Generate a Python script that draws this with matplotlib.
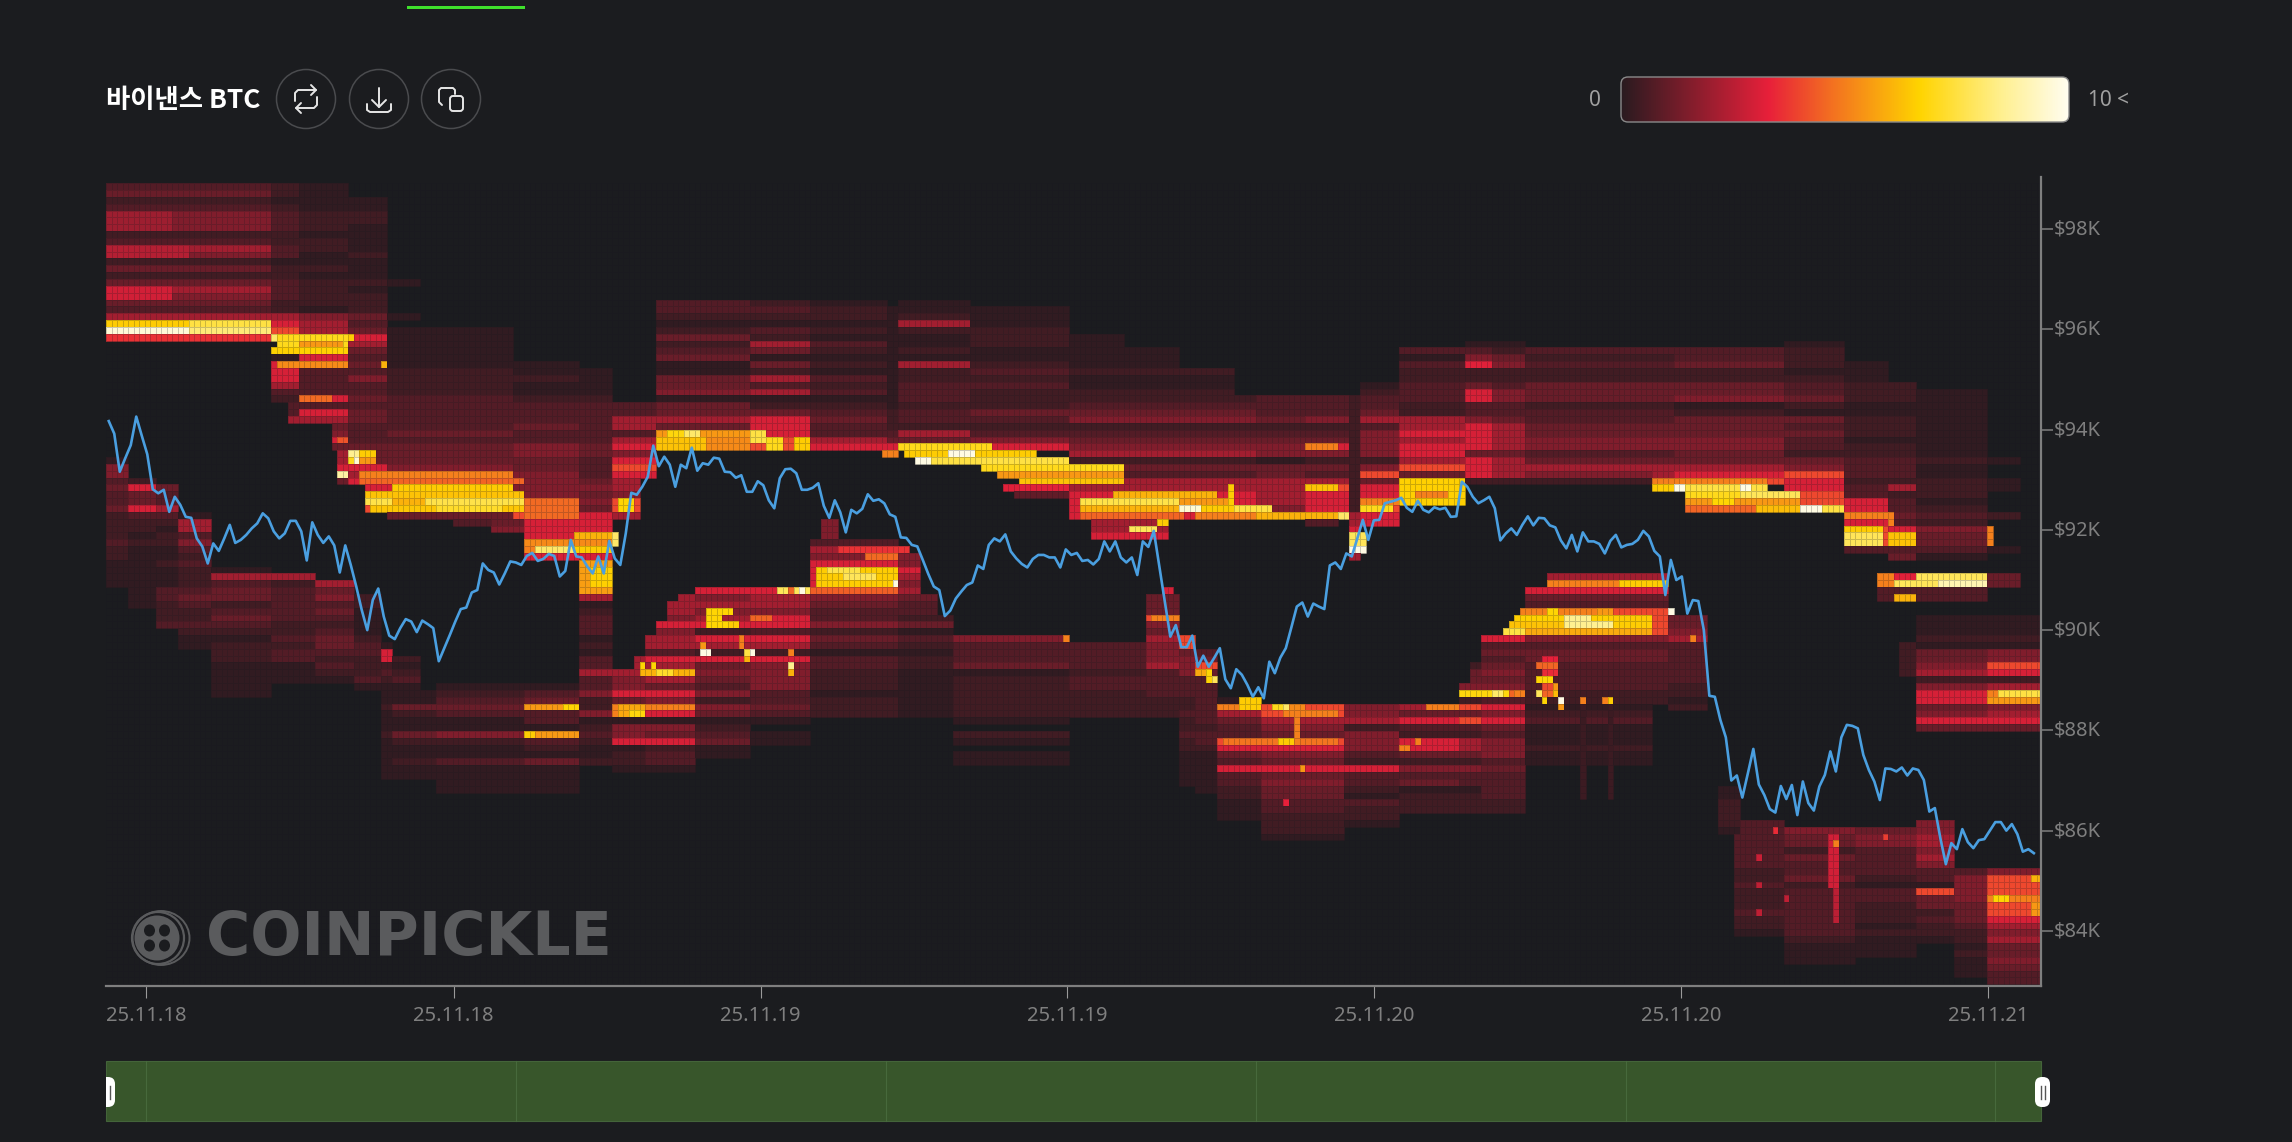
import numpy as np
import matplotlib
matplotlib.use('Agg')
from matplotlib import pyplot as plt
from matplotlib.colors import LinearSegmentedColormap
from matplotlib.patches import Circle, Ellipse, FancyBboxPatch, Rectangle
from matplotlib.transforms import ScaledTranslation

# heatmap grid: one column per time bucket, one row per price bucket (row 0 = top)
n_cols = 352
n_rows = 118
top_price = 98.917
price_step = 0.1366

# strength of a digit in the zone strings below
level_values = [0, 0.12, 0.4, 0.72, 1.1, 1.5, 2.1, 3.0, 4.0, 5.0]

# (first col, end col, first row, one digit per row)
zones = [
    (0, 30, 0, "34235552365242465436"),
    (30, 35, 0, "2212333223312233322678"),
    (35, 44, 0, "11112221221121222215664447533337376"),
    (30, 35, 25, "1777632"),
    (33, 35, 32, "336"),
    (41, 44, 35, "457466784"),
    (44, 51, 2, "11221111211121222434" "76434353" "34344333444767"),
    (51, 57, 14, "100001"),
    (51, 74, 21, "1111112222333334344457878884"),
    (47, 51, 44, "7888"),
    (63, 70, 49, "3"),
    (74, 86, 26, "112112" "33343355445555" "988777" "997"),
    (70, 76, 49, "45"),
    (86, 92, 27, "1111" "2" "333333" "44" "333" "45454" "777" "8887" "88888" "6" "1233312133" "6335225" "1232112"),
    (92, 100, 32, "33663675787"),
    (92, 97, 43, "665886"),
    (100, 117, 17, "3321242341144514464998"),
    (117, 128, 17, "2321326414263612477788"),
    (128, 142, 17, "1221213212132312343367"),
    (142, 144, 18, "111111111111111222347"),
    (144, 157, 17, "1126211216223332332647"),
    (157, 175, 18, "111222112323222432357"),
    (175, 209, 22, "111112112234523456243667777"),
    (179, 193, 49, "667"),
    (218, 224, 49, "3"),
    (209, 218, 31, "33342345514466665"),
    (218, 226, 31, "33352347524368777"),
    (226, 228, 31, "22222222222222222" "6678886"),
    (228, 235, 29, "123346355552584778877"),
    (235, 247, 24, "31322333226676776848888"),
    (247, 252, 23, "135622477335777747772"),
    (252, 258, 23, "124522355334666646662"),
    (258, 281, 24, "32322444233445534652"),
    (281, 285, 24, "323224442334455346688"),
    (285, 305, 24, "33422445124445544678"),
    (305, 316, 23, "122212334214343324587788"),
    (316, 324, 26, "1112221122212233323377878883"),
    (324, 329, 29, "22211222122333262334379934"),
    (329, 342, 30, "1111111111211222123254431"),
    (342, 348, 40, "10011000200001"),
    (0, 4, 40, "1553433422223221111"),
    (4, 9, 43, "2744732212111111111"),
    (9, 13, 44, "433632122112111332223"),
    (13, 19, 48, "16635323222343223211"),
    (19, 30, 56, "1634423432122211111"),
    (30, 38, 57, "6233333223233111"),
    (38, 45, 58, "645343234432321"),
    (45, 50, 60, "22111123322231"),
    (50, 52, 67, "17723211121112111111"),
    (52, 57, 69, "21231"),
    (52, 60, 74, "1142114211211"),
    (60, 76, 73, "1234311521131111"),
    (76, 86, 73, "1349331932141111"),
    (92, 98, 71, "655749915571221"),
    (96, 98, 69, "66"),
    (98, 107, 60, "66657566376964759715472331"),
    (107, 117, 59, "7565672762745435254123411"),
    (117, 128, 59, "76657737627555533431011"),
    (128, 144, 59, "8543352431332221222"),
    (130, 133, 49, "5552"),
    (128, 144, 52, "3657777"),
    (144, 154, 54, "557656433241321221111111"),
    (154, 175, 66, "5333412222221021011"),
    (175, 189, 67, "33332332222"),
    (189, 195, 60, "444854655563333222"),
    (192, 194, 59, "7"),
    (195, 198, 66, "8845553332232232211111"),
    (198, 202, 68, "348433333332332111111"),
    (202, 210, 75, "196433874373322111"),
    (210, 225, 76, "88654875474544332221"),
    (225, 235, 76, "556255532733213221"),
    (235, 246, 76, "6473277425341222"),
    (246, 250, 70, "2445928483266425331222"),
    (250, 258, 66, "73434545937574355534333322"),
    (258, 284, 57, "6874388885344333322123111211"),
    (284, 291, 63, "44563333332212"),
    (296, 305, 93, "33333332232223221"),
    (293, 297, 88, "1122221"),
    (305, 318, 94, "54424334233333332111"),
    (318, 329, 94, "4553333213322212111"),
    (329, 336, 93, "556656533184423221"),
    (336, 342, 100, "3555544432212111"),
    (342, 352, 100, "58889887656445433"),
    (329, 342, 63, "11121445625774574"),
    (342, 352, 63, "11121558726995674"),
    (326, 329, 67, "22222"),
    (322, 342, 59, "33"),
    (342, 348, 57, "44"),
]

# empty blocks that give the walls their stair steps
empty_cells = [
    (41, 42, 39, 44), (44, 46, 44, 50), (74, 76, 51, 56),
    (185, 209, 22, 24), (195, 209, 22, 27), (205, 209, 22, 31),
    (98, 100, 60, 66), (100, 102, 60, 64), (102, 104, 60, 61),
    (148, 154, 54, 60), (151, 154, 60, 63), (246, 248, 70, 73),
    (258, 262, 57, 59), (281, 284, 76, 85),
]

# bright cells on top: (first col, end col, first row, end row, value)
hot_cells = [
    (0, 12, 15, 17, 2.9), (0, 15, 9, 11, 2.4), (0, 12, 4, 7, 2.0), (247, 252, 26, 27, 3.2),
    (0, 30, 20, 21, 6.5), (15, 30, 20, 21, 7.5), (0, 15, 21, 22, 9.6), (15, 30, 21, 22, 8.2), (0, 30, 22, 23, 3.6),
    (30, 31, 22, 23, 8), (31, 44, 22, 24, 7), (35, 43, 23, 24, 5.5), (30, 44, 24, 25, 6.6), (31, 44, 26, 27, 5.2),
    (44, 45, 22, 23, 6.5), (50, 51, 26, 27, 6), (35, 41, 31, 32, 4.6), (42, 44, 37, 38, 4.2),
    (44, 46, 39, 40, 8.5), (46, 49, 39, 40, 6.5), (44, 46, 40, 41, 7), (45, 46, 40, 41, 9.5), (46, 49, 40, 41, 5.5),
    (42, 44, 42, 43, 8.8), (46, 74, 42, 43, 5), (46, 76, 43, 44, 4.5), (52, 74, 44, 45, 6.5),
    (47, 76, 45, 46, 6.3), (47, 76, 46, 47, 7.6), (52, 58, 46, 47, 6), (48, 76, 47, 48, 6.4), (60, 72, 47, 48, 7.2),
    (76, 92, 52, 53, 5.2), (85, 92, 51, 52, 6), (78, 85, 53, 54, 8), (85, 92, 53, 54, 6.5),
    (76, 86, 46, 49, 4.6), (86, 92, 55, 60, 5.6), (88, 92, 56, 59, 6.6), (93, 96, 46, 48, 6.7), (92, 93, 51, 53, 8),
    (100, 117, 36, 37, 5.5), (102, 108, 36, 37, 6.8), (105, 108, 36, 37, 8), (100, 109, 37, 39, 6.3), (109, 117, 37, 39, 5.2),
    (117, 120, 36, 38, 7.5), (120, 123, 37, 39, 7), (125, 128, 37, 39, 6.5),
    (144, 161, 38, 39, 7), (145, 169, 39, 40, 6.5), (153, 158, 39, 40, 9.8), (141, 144, 39, 40, 5),
    (147, 175, 40, 41, 7.5), (147, 150, 40, 41, 9.8), (159, 185, 41, 42, 7), (162, 185, 42, 43, 5.5),
    (166, 185, 43, 44, 6.3), (163, 175, 44, 45, 3.2), (165, 175, 45, 46, 1),
    (183, 202, 45, 46, 6), (177, 195, 46, 47, 7.6), (195, 204, 46, 47, 5.5), (177, 195, 47, 48, 6),
    (195, 199, 47, 48, 9.5), (199, 204, 47, 48, 6.5), (204, 212, 47, 48, 7.5), (177, 196, 48, 49, 4.5),
    (198, 209, 48, 49, 5), (209, 224, 48, 49, 6), (224, 226, 48, 49, 8), (204, 205, 44, 48, 6.5),
    (186, 191, 50, 51, 7.8), (191, 193, 49, 50, 6.5), (218, 224, 38, 39, 5), (218, 224, 44, 45, 6.3),
    (226, 229, 51, 54, 7.8), (226, 229, 53, 54, 9.8), (228, 235, 46, 47, 5), (228, 234, 47, 48, 7),
    (235, 247, 43, 47, 6.6), (238, 244, 45, 46, 5), (281, 284, 43, 44, 5), (282, 302, 43, 44, 5),
    (281, 285, 44, 45, 6.5), (285, 302, 44, 45, 7.5), (285, 287, 44, 45, 9.8), (297, 299, 44, 45, 9.8),
    (287, 308, 45, 46, 7), (297, 308, 45, 46, 7.8), (287, 308, 46, 47, 5.5), (292, 296, 46, 47, 6.7),
    (287, 300, 47, 48, 4.5), (300, 308, 47, 48, 6.2), (308, 312, 47, 48, 9.8), (312, 316, 47, 48, 7.5),
    (316, 324, 48, 49, 5), (316, 323, 50, 51, 6.5), (316, 323, 51, 53, 7.8), (324, 329, 51, 53, 6.3), (324, 325, 48, 50, 5),
    (342, 343, 50, 53, 5), (322, 325, 57, 59, 5), (325, 329, 57, 58, 3.2), (325, 329, 58, 59, 7.8),
    (329, 342, 57, 59, 7.8), (333, 342, 58, 59, 9), (325, 329, 60, 61, 6),
    (109, 112, 62, 65, 6.7), (112, 114, 62, 63, 6.7), (110, 114, 64, 65, 6.7), (113, 115, 64, 65, 6.5),
    (108, 109, 67, 68, 5.5), (108, 110, 68, 69, 9.8), (115, 116, 66, 68, 5), (116, 117, 68, 69, 7.5),
    (117, 118, 68, 69, 9.8), (116, 117, 69, 70, 6), (124, 125, 68, 69, 5), (124, 125, 70, 71, 8.5), (124, 125, 71, 72, 6),
    (122, 124, 59, 60, 7.8), (124, 125, 59, 60, 4.5), (125, 128, 59, 60, 7.8), (126, 127, 59, 60, 9.8), (117, 121, 63, 64, 4.5),
    (133, 146, 53, 54, 3.6), (138, 144, 54, 55, 4.6), (129, 144, 56, 59, 6.5), (131, 137, 56, 57, 7.6), (134, 140, 57, 58, 7.8),
    (143, 144, 58, 59, 9.8), (143, 144, 59, 60, 6.5), (128, 144, 59, 60, 4.4),
    (97, 98, 70, 71, 6.7), (99, 100, 70, 71, 6.7), (97, 107, 71, 72, 6), (100, 103, 71, 72, 7.2),
    (93, 98, 76, 78, 5.8), (95, 98, 77, 78, 6.8), (76, 86, 76, 77, 5.5), (83, 86, 76, 77, 6.7), (76, 86, 80, 81, 5.5), (76, 78, 80, 81, 6.5),
    (190, 195, 63, 64, 5), (174, 175, 66, 67, 5), (198, 200, 71, 72, 5.8), (200, 201, 71, 73, 6.7), (201, 202, 72, 73, 7.8),
    (206, 210, 75, 77, 6.5), (204, 206, 76, 77, 5), (212, 218, 76, 77, 5.2), (212, 214, 76, 77, 7), (214, 215, 76, 78, 8),
    (218, 219, 77, 78, 6.7), (214, 224, 77, 78, 5), (203, 224, 81, 82, 4.8), (213, 217, 81, 82, 6.5),
    (216, 217, 78, 82, 5), (217, 218, 85, 86, 5.5), (214, 215, 90, 91, 3.3),
    (238, 239, 81, 82, 5), (235, 237, 82, 83, 5), (240, 246, 76, 77, 5), (246, 255, 74, 75, 6.8), (252, 254, 74, 75, 8), (255, 256, 74, 75, 4.5),
    (262, 284, 58, 59, 5), (275, 284, 58, 59, 6.5), (257, 274, 62, 63, 5), (262, 264, 62, 63, 6.7), (271, 274, 62, 63, 5.5),
    (256, 281, 63, 64, 6.6), (255, 281, 64, 65, 6.3), (254, 281, 65, 66, 5.8), (254, 258, 65, 66, 7.5),
    (265, 270, 63, 65, 8.5), (274, 281, 63, 65, 6.5), (270, 274, 64, 65, 8.5), (284, 285, 62, 63, 9.8), (288, 289, 66, 67, 5),
    (261, 264, 69, 70, 3.3), (260, 264, 70, 71, 4.5), (261, 264, 71, 72, 3.5), (260, 263, 72, 73, 6.7), (261, 264, 73, 74, 4),
    (263, 264, 73, 74, 5.5), (260, 261, 74, 75, 7.8), (261, 263, 74, 75, 4.5), (263, 264, 74, 75, 6.2), (261, 262, 75, 76, 6.7),
    (264, 265, 75, 76, 9.8), (264, 265, 76, 77, 5.5), (268, 269, 75, 76, 5), (272, 273, 75, 76, 5), (273, 274, 75, 76, 6.5),
    (268, 269, 76, 90, 0.35), (273, 274, 76, 90, 0.35),
    (313, 315, 95, 103, 2.9), (314, 315, 103, 108, 2.5), (314, 315, 96, 97, 5), (303, 304, 94, 95, 3.5), (300, 301, 98, 99, 2.8), (300, 301, 102, 103, 2.6),
    (300, 301, 106, 107, 2.6), (305, 306, 104, 105, 2.6), (323, 324, 95, 96, 3.8),
    (343, 346, 104, 105, 6.7), (350, 352, 101, 102, 6), (350, 352, 105, 107, 5.5), (344, 352, 74, 75, 7.5), (342, 352, 75, 76, 5.5),
]

# BTC price in $K, one reading per column
line_price = [
    94.17, 93.92, 93.16, 93.43, 93.69, 94.26, 93.88, 93.51, 92.81, 92.73, 92.80, 92.36, 92.66, 92.50, 92.26, 92.24,
    91.83, 91.67, 91.33, 91.73, 91.58, 91.83, 92.10, 91.74, 91.80, 91.90, 92.03, 92.13, 92.33, 92.23, 91.97, 91.83,
    91.93, 92.18, 92.18, 91.97, 91.39, 92.15, 91.90, 91.74, 91.87, 91.69, 91.15, 91.69, 91.30, 90.87, 90.40, 90.00,
    90.60, 90.83, 90.27, 89.89, 89.82, 90.04, 90.22, 90.17, 89.96, 90.19, 90.12, 90.04, 89.38, 89.64, 89.90, 90.17,
    90.42, 90.45, 90.75, 90.80, 91.33, 91.20, 91.15, 90.91, 91.13, 91.37, 91.35, 91.30, 91.48, 91.54, 91.38, 91.42,
    91.52, 91.48, 91.07, 91.18, 91.80, 91.47, 91.45, 91.27, 91.13, 91.47, 91.13, 91.78, 91.43, 91.30, 91.93, 92.74,
    92.70, 92.86, 93.06, 93.68, 93.27, 93.46, 93.30, 92.86, 93.30, 93.23, 93.64, 93.18, 93.33, 93.30, 93.44, 93.42,
    93.16, 93.15, 93.04, 93.09, 92.76, 92.76, 92.97, 92.89, 92.59, 92.43, 93.03, 93.21, 93.22, 93.13, 92.80, 92.80,
    92.84, 92.93, 92.48, 92.24, 92.59, 92.35, 91.95, 92.40, 92.33, 92.42, 92.71, 92.58, 92.61, 92.53, 92.31, 92.26,
    91.85, 91.84, 91.70, 91.67, 91.40, 91.12, 90.87, 90.80, 90.28, 90.39, 90.63, 90.77, 90.90, 90.95, 91.29, 91.22,
    91.70, 91.83, 91.77, 91.91, 91.57, 91.43, 91.32, 91.25, 91.42, 91.50, 91.50, 91.45, 91.45, 91.25, 91.61, 91.50,
    91.54, 91.38, 91.40, 91.31, 91.42, 91.77, 91.57, 91.77, 91.45, 91.35, 91.45, 91.10, 91.77, 91.66, 91.98, 91.27,
    90.57, 89.87, 90.10, 89.66, 89.66, 89.89, 89.27, 89.49, 89.27, 89.45, 89.64, 89.02, 88.84, 89.22, 89.11, 88.91,
    88.67, 88.86, 88.64, 89.37, 89.14, 89.45, 89.64, 90.05, 90.47, 90.55, 90.27, 90.53, 90.47, 90.42, 91.29, 91.35,
    91.22, 91.53, 91.47, 91.83, 92.20, 91.80, 92.19, 92.20, 92.53, 92.56, 92.59, 92.64, 92.44, 92.36, 92.58, 92.40,
    92.35, 92.45, 92.41, 92.44, 92.26, 92.27, 92.96, 92.86, 92.66, 92.53, 92.59, 92.66, 92.43, 91.79, 91.93, 92.03,
    91.90, 92.10, 92.27, 92.09, 92.24, 92.23, 92.09, 92.05, 91.79, 91.63, 91.90, 91.57, 91.95, 91.77, 91.77, 91.72,
    91.53, 91.78, 91.90, 91.65, 91.70, 91.72, 91.80, 91.98, 91.87, 91.58, 91.47, 90.70, 91.40, 91.00, 91.07, 90.33,
    90.60, 90.58, 90.00, 88.69, 88.67, 88.21, 87.86, 87.00, 87.10, 86.66, 87.14, 87.63, 86.92, 86.71, 86.43, 86.36,
    86.89, 86.63, 86.91, 86.31, 86.98, 86.55, 86.40, 86.88, 87.11, 87.58, 87.18, 87.86, 88.11, 88.09, 88.04, 87.51,
    87.21, 86.98, 86.61, 87.24, 87.23, 87.18, 87.26, 87.10, 87.24, 87.21, 87.01, 86.38, 86.45, 85.85, 85.33, 85.75,
    85.63, 86.03, 85.77, 85.65, 85.81, 85.83, 86.00, 86.17, 86.17, 86.00, 86.13, 85.93, 85.58, 85.63, 85.55,
]

price_ticks = [84, 86, 88, 90, 92, 94, 96, 98]
price_labels = ['$84K', '$86K', '$88K', '$90K', '$92K', '$94K', '$96K', '$98K']
date_ticks = [7.35, 63.2, 119.0, 174.8, 230.6, 286.4, 342.2]
date_labels = ['25.11.18', '25.11.18', '25.11.19', '25.11.19', '25.11.20', '25.11.20', '25.11.21']

bg = '#1b1c1f'
grey = '#7f7f7f'
kr_font = ['Noto Sans CJK KR', 'DejaVu Sans']

heat_cmap = LinearSegmentedColormap.from_list('heat', [
    (0.0, '#2a1b20'), (0.33, '#e8203a'), (0.47, '#f37021'), (0.667, '#ffd400'), (0.85, '#fff08f'), (1.0, '#fffdf0')])

# paint the grid
heat = np.zeros((n_rows, n_cols))
for c0, c1, r0, digits in zones:
    for i, ch in enumerate(digits):
        if ch != '0':
            heat[r0 + i, c0:c1] = level_values[int(ch)]
for c0, c1, r0, r1 in empty_cells:
    heat[r0:r1, c0:c1] = 0
for c0, c1, r0, r1, v in hot_cells:
    heat[r0:r1, c0:c1] = v

fig = plt.figure(figsize=(22.92, 11.42), dpi=100, facecolor=bg)

# main chart, placed on the pixel box of the reference
ax = fig.add_axes([106 / 2292, 1 - 986 / 1142, 1935 / 2292, 809 / 1142], facecolor=bg)
col_edges = np.arange(n_cols + 1)
price_edges = top_price - price_step * np.arange(n_rows + 1)
ax.pcolormesh(col_edges, price_edges, np.ma.masked_equal(heat, 0), cmap=heat_cmap, vmin=0, vmax=10,
              edgecolors=(0.1, 0.1, 0.12, 0.22), linewidth=0.5)
ax.plot(np.arange(len(line_price)) + 0.5, line_price, color='#4a9fe0', lw=1.9, zorder=5)
ax.set_xlim(0, 351.8)
ax.set_ylim(82.90, 99.04)

for side in ['left', 'top']:
    ax.spines[side].set_visible(False)
for side in ['right', 'bottom']:
    ax.spines[side].set_color(grey)
    ax.spines[side].set_linewidth(1.6)
ax.yaxis.tick_right()
ax.set_yticks(price_ticks)
ax.set_yticklabels(price_labels, family='Noto Sans', fontsize=14.5, color=grey)
ax.tick_params(axis='y', length=8.5, width=1.1, color=grey, pad=1)
lift = ScaledTranslation(0, 2 / 100, fig.dpi_scale_trans)
for label in ax.get_yticklabels():
    label.set_transform(label.get_transform() + lift)
ax.set_xticks(date_ticks)
ax.set_xticklabels(date_labels, family='Noto Sans', fontsize=14.5, color=grey)
ax.tick_params(axis='x', length=8.5, width=0.8, color='#9a9a9a', pad=6)

# page furniture drawn in pixel coordinates
ui = fig.add_axes([0, 0, 1, 1], facecolor='none')
ui.axis('off')

ui.add_patch(Rectangle((407, 6), 118, 3, color='#3fe02c', lw=0))
ui.text(106, 101, '바이낸스 BTC', family=kr_font, fontweight='bold', fontsize=19, color='white', va='center', ha='left')

for cx in [306, 379, 451]:
    ui.add_patch(Circle((cx, 99), 29.5, fill=False, ec='#4a4b4e', lw=1.1))
icon = dict(color='#e6e6e6', lw=1.4, solid_capstyle='round', solid_joinstyle='round')
# repeat icon
ui.plot([295, 295, 298, 316, 311], [101, 93, 90, 90, 85], **icon)
ui.plot([316, 311], [90, 95], **icon)
ui.plot([317, 317, 314, 296, 301], [97, 105, 108, 108, 103], **icon)
ui.plot([296, 301], [108, 113], **icon)
# download icon
ui.plot([379, 379], [88, 107], **icon)
ui.plot([372, 379, 386], [100, 107, 100], **icon)
ui.plot([367, 367, 370, 388, 391, 391], [104, 110, 112, 112, 110, 104], **icon)
# copy icon
ui.add_patch(FancyBboxPatch((450, 96), 13, 15, boxstyle='round,pad=0,rounding_size=3', fill=False, ec='#e6e6e6', lw=1.4))
ui.plot([446, 441, 439, 439, 442], [88, 88, 90, 102, 105], **icon)
ui.plot([446, 453, 455, 455], [88, 88, 90, 94], **icon)

# colour legend
ui.text(1595, 101, '0', family='Noto Sans', fontsize=15, color='#a0a0a0', va='center', ha='center')
ui.text(2088, 101, '10 <', family='Noto Sans', fontsize=15, color='#a0a0a0', va='center', ha='left')
grad = ui.imshow(np.linspace(0, 1, 512)[None, :], extent=(1621, 2069, 122, 77), cmap=heat_cmap, aspect='auto', zorder=2)
frame = FancyBboxPatch((1621, 77), 448, 45, boxstyle='round,pad=0,rounding_size=7', fill=False, ec='#8a8a8a', lw=1, zorder=3)
ui.add_patch(frame)
grad.set_clip_path(frame)

# watermark
logo = '#5a5b5d'
ui.add_patch(Ellipse((161, 938), 57, 54, fill=False, ec=logo, lw=1.4))
ui.add_patch(Ellipse((158, 938), 52, 52, fill=False, ec=logo, lw=1.6))
ui.add_patch(Circle((157, 938), 22.5, color=logo, lw=0))
for dx, dy in [(-7.5, -7.5), (7.5, -7.5), (-7.5, 7.5), (7.5, 7.5)]:
    ui.add_patch(Ellipse((157 + dx, 938 + dy), 11, 12, color=bg, lw=0))
ui.text(206, 938, 'COINPICKLE', family='DejaVu Sans', fontweight='bold', fontsize=43.5, color=logo, va='center', ha='left')

# range navigator under the chart
ui.add_patch(Rectangle((106, 1061), 1935, 60, fc='#38562b', ec='#44643a', lw=0.8))
for nx in [146.4, 516.2, 886, 1255.8, 1625.6, 1995.4]:
    ui.plot([nx, nx], [1061, 1121], color='#47693c', lw=0.8)
ui.add_patch(FancyBboxPatch((96, 1077), 19, 30, boxstyle='round,pad=0,rounding_size=7', fc='white', ec='none', zorder=4, clip_on=True))
ui.add_patch(Rectangle((0, 1070), 106, 45, fc=bg, ec='none', zorder=5))
ui.plot([109.5, 109.5], [1086, 1099], color='#555555', lw=1, zorder=6)
ui.add_patch(FancyBboxPatch((2035, 1077), 15, 30, boxstyle='round,pad=0,rounding_size=7', fc='white', ec='none', zorder=4))
for hx in [2041, 2044.5]:
    ui.plot([hx, hx], [1086, 1099], color='#555555', lw=1, zorder=6)

ui.set_xlim(0, 2292)
ui.set_ylim(1142, 0)

fig.savefig('out.png', dpi=100, facecolor=bg)
